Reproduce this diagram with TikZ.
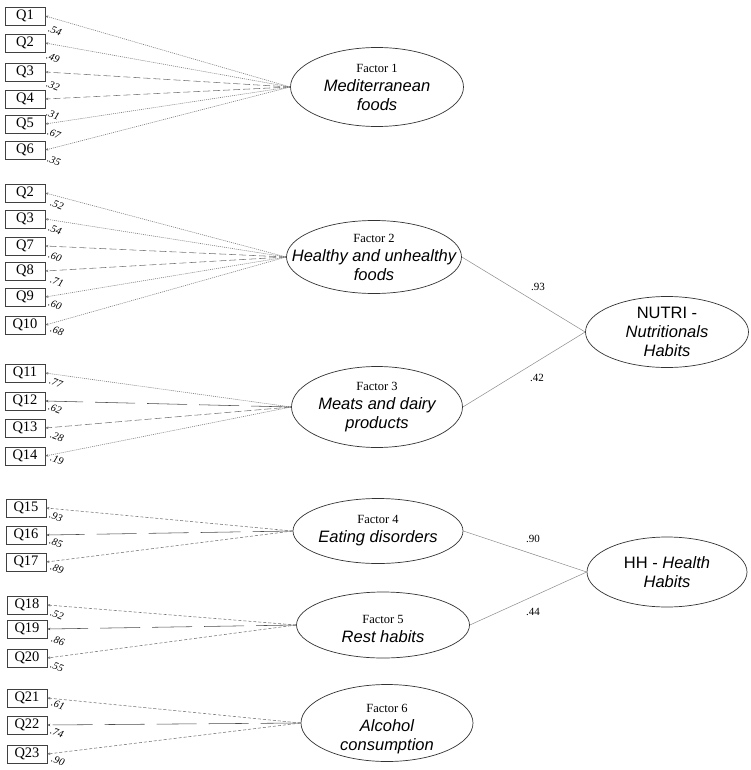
\documentclass[tikz,border=0pt]{standalone}
\usepackage{fontspec}
\setmainfont{Liberation Serif}
\setsansfont{Liberation Sans}
\usetikzlibrary{shapes.geometric,arrows.meta}
\begin{document}
\begin{tikzpicture}[x=1pt,y=-1pt,
  qbox/.style={draw=black!75, line width=0.7pt, minimum width=40pt, minimum height=18pt, inner sep=0pt, font=\fontsize{14.5}{14.5}\selectfont},
  fac/.style={draw=black!80, line width=0.7pt, ellipse, inner sep=0pt},
  ftxt/.style={align=center, inner sep=0pt, font=\sffamily\itshape\fontsize{16.5}{19}\selectfont},
  ld/.style={font=\fontsize{10.5}{10.5}\selectfont\itshape, rotate=-20, inner sep=0pt},
  lnk/.style={draw=black!55, line width=0.55pt, -{Stealth[length=3pt,width=2.5pt]}},
  dotl/.style={lnk, dash pattern=on 1pt off 1pt},
  dashl/.style={lnk, dash pattern=on 7pt off 3pt},
  sdashl/.style={lnk, dash pattern=on 3pt off 2pt},
  longl/.style={lnk, draw=black!70, dash pattern=on 40pt off 12pt},
  pth/.style={draw=black!45, line width=0.5pt},
  pl/.style={font=\fontsize{11}{11}\selectfont, inner sep=0pt}
]
\useasboundingbox[fill=white] (0,0) rectangle (750,770);

% Factor ellipses
\node[fac, minimum width=173pt, minimum height=79pt] (f1) at (377,87) {};
\node[ftxt] (t1) at (f1) {{\rmfamily\upshape\fontsize{12.5}{15}\selectfont Factor 1}\\Mediterranean\\foods};
\node[fac, minimum width=175pt, minimum height=73pt] (f2) at (374,257) {};
\node[ftxt] (t2) at (f2) {{\rmfamily\upshape\fontsize{12.5}{15}\selectfont Factor 2}\\Healthy and unhealthy\\foods};
\node[fac, minimum width=171pt, minimum height=81pt] (f3) at (377,407) {};
\node[ftxt] (t3) at (f3) {{\rmfamily\upshape\fontsize{12.5}{15}\selectfont Factor 3}\\Meats and dairy\\products};
\node[fac, minimum width=170pt, minimum height=65pt] (f4) at (378,531) {};
\node[ftxt] (t4) at (f4) {{\rmfamily\upshape\fontsize{12.5}{15}\selectfont Factor 4}\\Eating disorders};
\node[fac, minimum width=173pt, minimum height=66pt] (f5) at (383,625) {};
\node[ftxt] (t5) at ([yshift=-4pt]f5.center) {{\rmfamily\upshape\fontsize{12.5}{15}\selectfont Factor 5}\\Rest habits};
\node[fac, minimum width=172pt, minimum height=77pt] (f6) at (387,723) {};
\node[ftxt] (t6) at ([yshift=-6pt]f6.center) {{\rmfamily\upshape\fontsize{12.5}{15}\selectfont Factor 6}\\Alcohol\\consumption};

% Second-order ellipses
\node[fac, minimum width=163pt, minimum height=71pt] (nutri) at (667,332) {};
\node[ftxt, font=\sffamily\fontsize{16.5}{19}\selectfont] (tn) at (nutri) {NUTRI -\\\textit{Nutritionals}\\\textit{Habits}};
\node[fac, minimum width=160pt, minimum height=70pt] (hh) at (667,572) {};
\node[ftxt, font=\sffamily\fontsize{16.5}{19}\selectfont] (th) at (hh) {HH - \textit{Health}\\\textit{Habits}};

% Second-order paths
\draw[pth] (f2.east) -- (nutri.west);
\draw[pth] (f3.east) -- (nutri.west);
\draw[pth] (f4.east) -- (hh.west);
\draw[pth] (f5.east) -- (hh.west);
\node[pl] (p1) at (538,287) {.93};
\node[pl] (p2) at (537,378) {.42};
\node[pl] (p3) at (533,539) {.90};
\node[pl] (p4) at (533,612) {.44};

% Group 1
\foreach \q/\y/\s/\v/\lx/\ly in {1/16/dotl/.54/55/31, 2/43/dotl/.49/53/58, 3/72/dashl/.32/53/86, 4/99/dashl/.31/53/115, 5/124/dotl/.67/54/134, 6/150/dotl/.35/54/161}{
  \node[qbox] (g1q\q) at (25,\y) {Q\q};
  \draw[\s] (f1.west) -- (g1q\q.east);
  \node[ld] (g1l\q) at (\lx,\ly) {\v};
}
% Group 2
\foreach \q/\y/\s/\v/\lx/\ly in {2/193/dotl/.52/57/205, 3/219/dotl/.54/55/230, 7/246/dashl/.60/55/257, 8/271/dashl/.71/57/282, 9/297/dotl/.60/55/305, 10/325/dotl/.68/57/331}{
  \node[qbox] (g2q\q) at (25,\y) {Q\q};
  \draw[\s] (f2.west) -- (g2q\q.east);
  \node[ld] (g2l\q) at (\lx,\ly) {\v};
}
% Group 3
\foreach \q/\y/\s/\v/\lx/\ly in {11/373/dotl/.77/56/383, 12/401/longl/.62/55/409, 13/428/dashl/.28/57/437, 14/456/dotl/.19/57/460}{
  \node[qbox] (g3q\q) at (25,\y) {Q\q};
  \draw[\s] (f3.west) -- (g3q\q.east);
  \node[ld] (g3l\q) at (\lx,\ly) {\v};
}
% Group 4
\foreach \q/\y/\s/\v/\lx/\ly in {15/508/sdashl/.93/56/517, 16/535/longl/.85/56/543, 17/562/sdashl/.89/57/569}{
  \node[qbox] (g4q\q) at (26,\y) {Q\q};
  \draw[\s] (f4.west) -- (g4q\q.east);
  \node[ld] (g4l\q) at (\lx,\ly) {\v};
}
% Group 5
\foreach \q/\y/\s/\v/\lx/\ly in {18/605/sdashl/.52/57/615, 19/629/longl/.86/58/641, 20/658/sdashl/.55/57/667}{
  \node[qbox] (g5q\q) at (27,\y) {Q\q};
  \draw[\s] (f5.west) -- (g5q\q.east);
  \node[ld] (g5l\q) at (\lx,\ly) {\v};
}
% Group 6
\foreach \q/\y/\s/\v/\lx/\ly in {21/698/sdashl/.61/58/705, 22/725/longl/.74/57/733, 23/754/sdashl/.90/58/761}{
  \node[qbox] (g6q\q) at (27,\y) {Q\q};
  \draw[\s] (f6.west) -- (g6q\q.east);
  \node[ld] (g6l\q) at (\lx,\ly) {\v};
}
\end{tikzpicture}
\end{document}
